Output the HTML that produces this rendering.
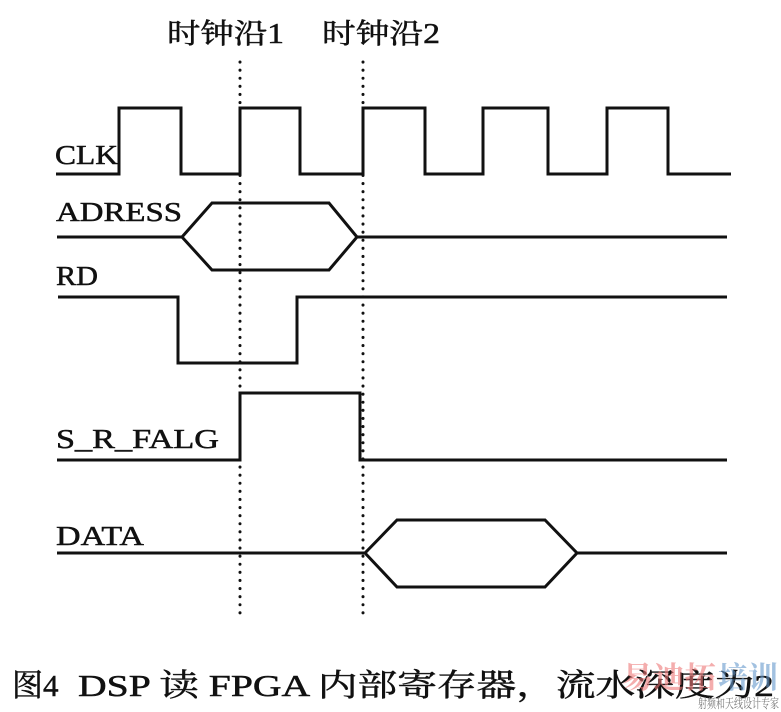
<!DOCTYPE html>
<html><head><meta charset="utf-8"><style>
html,body{margin:0;padding:0;background:#fff;}
svg{display:block;}
text{font-family:"Liberation Serif","Noto Serif CJK SC",serif;fill:#111;}
.l{stroke:#111;stroke-width:0.5;}
</style></head><body>
<svg width="781" height="712" viewBox="0 0 781 712" xmlns="http://www.w3.org/2000/svg">
<g stroke="#111" stroke-width="3" stroke-dasharray="0.1,8" stroke-linecap="round">
<line x1="240" y1="62" x2="240" y2="618"/>
<line x1="363" y1="62" x2="363" y2="618"/>
</g>
<g fill="none" stroke="#111" stroke-width="3" stroke-linejoin="miter">
<polyline points="56,174 119,174 119,108 181,108 181,174 240,174 240,108 300,108 300,174 363,174 363,108 425,108 425,174 483,174 483,108 548,108 548,174 607,174 607,108 668,108 668,174 731,174"/>
<polyline points="57,237 182,237"/>
<polygon points="182,237 212,203 329,203 357,237 329,270 212,270"/>
<polyline points="357,237 727,237"/>
<polyline points="58,297 178,297 178,363 297,363 297,297 727,297"/>
<polyline points="57,460 240,460 240,393 360,393 360,460 727,460"/>
<polyline points="57,553 365,553"/>
<polygon points="365,553 397,520 545,520 577,553 545,587 397,587"/>
<polyline points="577,553 727,553"/>
</g>
<g font-size="27" class="l">
<text x="55" y="164" textLength="63" lengthAdjust="spacingAndGlyphs">CLK</text>
<text x="56" y="221" textLength="126" lengthAdjust="spacingAndGlyphs">ADRESS</text>
<text x="56" y="285" textLength="42" lengthAdjust="spacingAndGlyphs">RD</text>
<text x="56" y="448" textLength="163" lengthAdjust="spacingAndGlyphs">S_R_FALG</text>
<text x="56" y="545" textLength="88" lengthAdjust="spacingAndGlyphs">DATA</text>
</g>
<text x="167" y="43" font-size="28" class="l" textLength="117" lengthAdjust="spacingAndGlyphs">时钟沿1</text>
<text x="322" y="43" font-size="28" class="l" textLength="118" lengthAdjust="spacingAndGlyphs">时钟沿2</text>
<text x="12" y="696" font-size="31" class="l">图</text>
<text x="43" y="696" font-size="31" class="l">4</text>
<text x="78" y="696" font-size="31" class="l" textLength="696" lengthAdjust="spacingAndGlyphs">DSP 读 FPGA 内部寄存器，流水深度为2</text>
<text x="622" y="688" font-size="30" font-weight="bold" style="fill:#e77;opacity:0.6" textLength="94" lengthAdjust="spacingAndGlyphs">易迪拓</text>
<text x="718" y="688" font-size="30" font-weight="bold" style="fill:#69c;opacity:0.6" textLength="60" lengthAdjust="spacingAndGlyphs">培训</text>
<text x="698" y="708" font-size="13" style="fill:#777" textLength="81" lengthAdjust="spacingAndGlyphs">射频和天线设计专家</text>
</svg>
</body></html>
